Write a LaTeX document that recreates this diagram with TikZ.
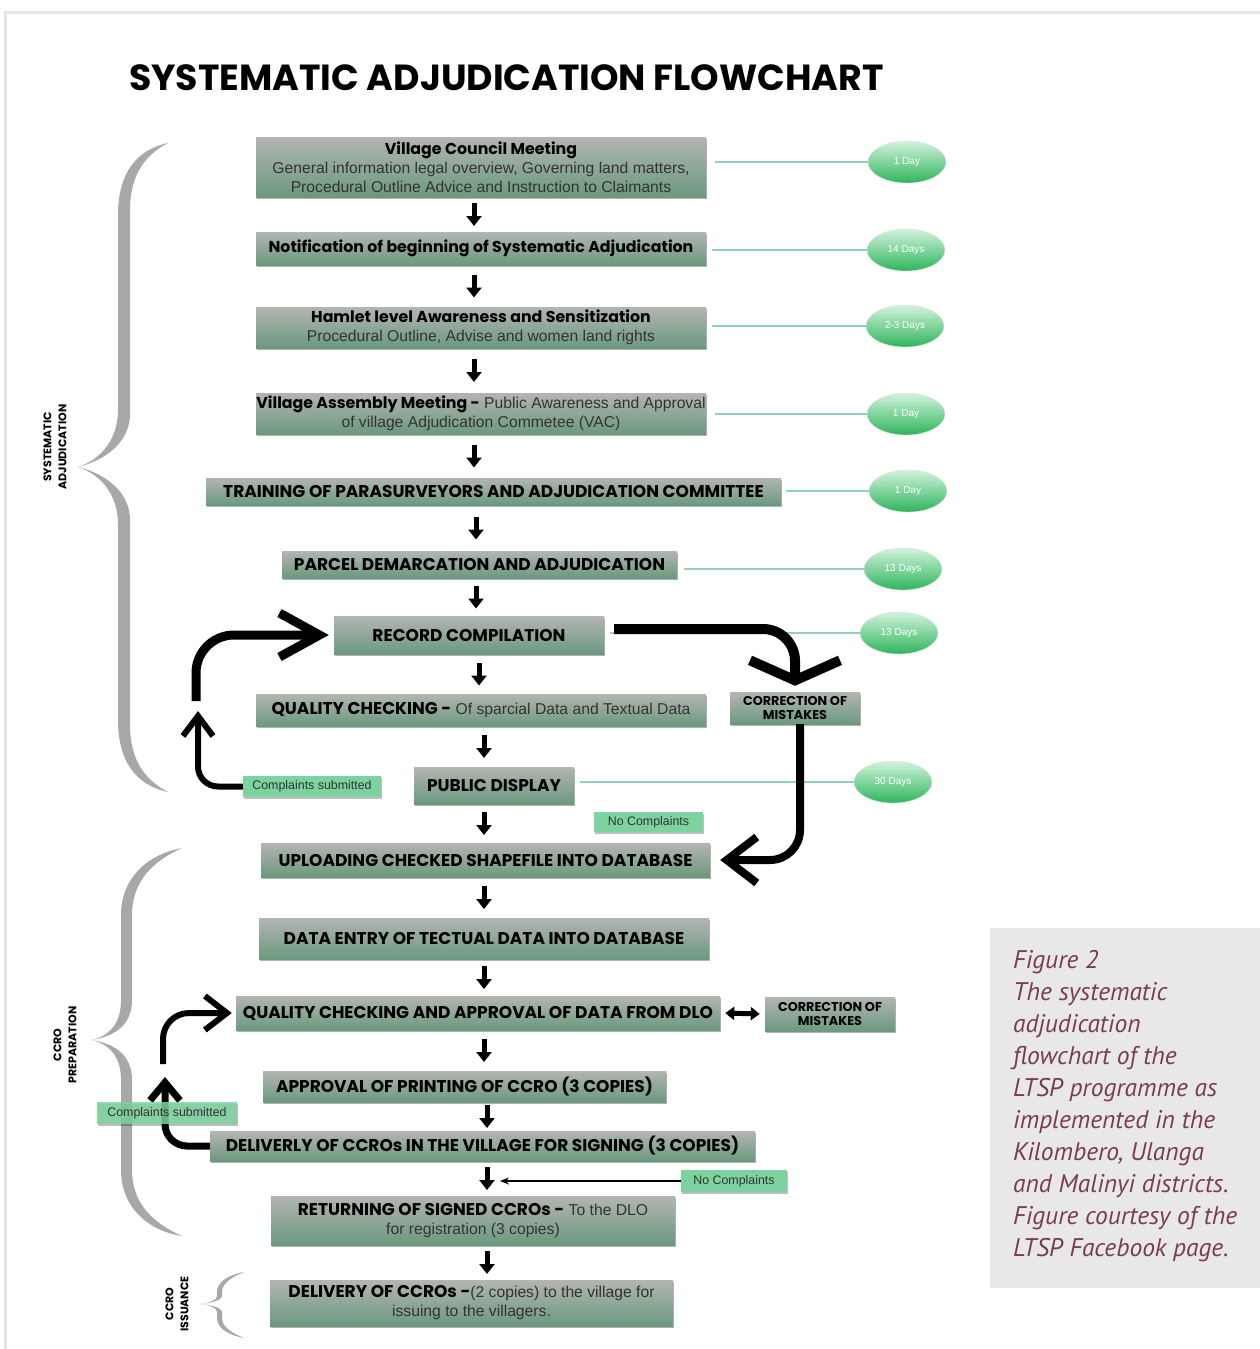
\documentclass[tikz,border=0pt]{standalone}
\usepackage{fontspec}
\setmainfont{Liberation Sans}
\newfontfamily\geo{Poppins}
\newfontfamily\capfont{PT Sans}
\usetikzlibrary{arrows.meta,shapes.geometric,shadows,calc}
\definecolor{boxtop}{HTML}{B3B5B1}
\definecolor{boxbot}{HTML}{6B997E}
\definecolor{mint}{HTML}{7DD3A0}
\definecolor{ovtop}{HTML}{D2F3DC}
\definecolor{ovbot}{HTML}{2EB55C}
\definecolor{tline}{HTML}{8FD3B0}
\definecolor{brc}{HTML}{A8A8A8}
\definecolor{capbg}{HTML}{E8E8E8}
\definecolor{capfg}{HTML}{7A3C50}
\definecolor{framec}{HTML}{E4E4E4}
\definecolor{bodytxt}{HTML}{333333}
\newcommand\headf{\geo\bfseries\fontsize{15.8}{19}\selectfont}
\newcommand\capsf{\geo\bfseries\fontsize{17}{19}\selectfont}
\newcommand\bodyf{\fontsize{15.7}{19}\selectfont}
\begin{document}
\begin{tikzpicture}[x=1pt,y=-1pt,
  gbox/.style={rectangle, top color=boxtop, bottom color=boxbot, inner sep=0pt, align=center,
    text=bodytxt, font=\bodyf,
    drop shadow={shadow xshift=1pt,shadow yshift=-2pt,opacity=0.3,fill=black}},
  capbox/.style={gbox, text=black, font=\capsf},
  corrbox/.style={gbox, text=black, font=\geo\bfseries\fontsize{12.8}{14}\selectfont},
  mintbox/.style={rectangle, fill=mint, inner sep=0pt, text=black!80, font=\fontsize{12.4}{13}\selectfont,
    drop shadow={shadow xshift=1pt,shadow yshift=-1.5pt,opacity=0.25,fill=black}},
  oval/.style={ellipse, minimum width=78, minimum height=42, inner sep=0pt, top color=ovtop,
    bottom color=ovbot, draw=black!12, text=white, font=\fontsize{10}{11}\selectfont},
  tl/.style={draw=tline, line width=2.3pt},
  dn/.style={line width=5pt, -{Triangle[length=10pt,width=15pt]}},
  vlab/.style={rotate=90, align=center, font=\geo\bfseries\fontsize{11}{15}\selectfont},
  brace/.style={fill=brc, draw=none}
]
\useasboundingbox (0,0) rectangle (1260,1349);
\fill[white] (0,0) rectangle (1260,1349);
\draw[framec, line width=3pt] (5,1349) -- (5,12) -- (1260,12);

% title
\node[font=\geo\bfseries\fontsize{36.3}{40}\selectfont, anchor=west, inner sep=0pt] (title) at (129,78) {SYSTEMATIC ADJUDICATION FLOWCHART};

% braces
\path[brace] (168,143) .. controls (135,150) and (118,175) .. (118,215) -- (118,410)
  .. controls (118,440) and (100,460) .. (78,467) .. controls (100,474) and (118,494) .. (118,524)
  -- (118,720) .. controls (118,760) and (135,785) .. (168,792)
  .. controls (145,780) and (130,760) .. (130,725) -- (130,520)
  .. controls (130,495) and (110,475) .. (78,467) .. controls (110,459) and (130,439) .. (130,414)
  -- (130,210) .. controls (130,175) and (145,155) .. (168,143) -- cycle;
\path[brace] (182,848) .. controls (145,855) and (121,880) .. (121,915) -- (121,1000)
  .. controls (121,1025) and (108,1036) .. (92,1040) .. controls (108,1044) and (121,1055) .. (121,1080)
  -- (121,1170) .. controls (121,1205) and (145,1230) .. (182,1236)
  .. controls (155,1224) and (132,1205) .. (132,1170) -- (132,1080)
  .. controls (132,1055) and (115,1044) .. (92,1040) .. controls (115,1036) and (132,1025) .. (132,1000)
  -- (132,915) .. controls (132,880) and (155,860) .. (182,848) -- cycle;
\path[brace] (244,1272) .. controls (228,1275) and (217,1282) .. (217,1292) -- (217,1296)
  .. controls (217,1300) and (210,1303) .. (200,1304) .. controls (210,1305) and (217,1308) .. (217,1312)
  -- (217,1318) .. controls (217,1328) and (228,1335) .. (244,1338)
  .. controls (232,1333) and (222,1327) .. (222,1318) -- (222,1312)
  .. controls (222,1308) and (212,1305) .. (200,1304) .. controls (212,1303) and (222,1300) .. (222,1296)
  -- (222,1292) .. controls (222,1283) and (232,1277) .. (244,1272) -- cycle;

\node[vlab] (lab1) at (55,447) {SYSTEMATIC\\ADJUDICATION};
\node[vlab] (lab2) at (65,1045) {CCRO\\PREPARATION};
\node[vlab] (lab3) at (177,1304) {CCRO\\ISSUANCE};

% main boxes
\node[gbox, minimum width=450, minimum height=60] (b1) at (481,167)
  {{\headf\color{black}Village Council Meeting}\\General information legal overview, Governing land matters,\\Procedural Outline Advice and Instruction to Claimants};
\node[gbox, minimum width=450, minimum height=33] (b2) at (481,248.5)
  {{\headf\color{black}Notification of beginning of Systematic Adjudication}};
\node[gbox, minimum width=450, minimum height=41] (b3) at (481,327.5)
  {{\headf\color{black}Hamlet level Awareness and Sensitization}\\Procedural Outline, Advise and women land rights};
\node[gbox, minimum width=450, minimum height=41] (b4) at (481,413.5)
  {{\headf\color{black}Village Assembly Meeting -} Public Awareness and Approval\\of village Adjudication Commetee (VAC)};
\node[capbox, minimum width=575, minimum height=27] (b5) at (493.5,491.5)
  {TRAINING OF PARASURVEYORS AND ADJUDICATION COMMITTEE};
\node[capbox, minimum width=395, minimum height=27] (b6) at (479.5,564.5)
  {PARCEL DEMARCATION AND ADJUDICATION};
\node[capbox, minimum width=270, minimum height=38] (b7) at (469,635)
  {RECORD COMPILATION};
\node[gbox, minimum width=450, minimum height=32] (b8) at (481,710)
  {{\capsf\color{black}QUALITY CHECKING -} Of sparcial Data and Textual Data};
\node[corrbox, minimum width=130, minimum height=32] (c1) at (795,708)
  {CORRECTION OF\\MISTAKES};
\node[capbox, minimum width=160, minimum height=37] (b11) at (494,785.5)
  {PUBLIC DISPLAY};
\node[capbox, minimum width=449, minimum height=34] (b13) at (485.5,860)
  {UPLOADING CHECKED SHAPEFILE INTO DATABASE};
\node[capbox, minimum width=450, minimum height=41] (b14) at (484,938.5)
  {DATA ENTRY OF TECTUAL DATA INTO DATABASE};
\node[capbox, minimum width=484, minimum height=34] (b15) at (478,1013)
  {QUALITY CHECKING AND APPROVAL OF DATA FROM DLO};
\node[corrbox, minimum width=130, minimum height=34] (c2) at (830,1014)
  {CORRECTION OF\\MISTAKES};
\node[capbox, minimum width=403, minimum height=31] (b17) at (464.5,1086.5)
  {APPROVAL OF PRINTING OF CCRO (3 COPIES)};
\node[capbox, minimum width=545, minimum height=30] (b19) at (482.5,1146)
  {DELIVERLY OF CCROs IN THE VILLAGE FOR SIGNING (3 COPIES)};
\node[gbox, minimum width=404, minimum height=49] (b21) at (473,1220.5)
  {{\capsf\color{black}RETURNING OF SIGNED CCROs -} To the DLO\\for registration (3 copies)};
\node[gbox, minimum width=403, minimum height=46] (b22) at (471.5,1303)
  {{\capsf\color{black}DELIVERY OF CCROs -}(2 copies) to the village for\\issuing to the villagers.};

% duration ovals and lines
\node[oval] (d1) at (907,162) {1 Day};
\node[oval] (d2) at (906,250) {14 Days};
\node[oval] (d3) at (905,326) {2-3 Days};
\node[oval] (d4) at (906,414) {1 Day};
\node[oval] (d5) at (908,491) {1 Day};
\node[oval] (d6) at (903,569) {13 Days};
\node[oval] (d7) at (899,633) {13 Days};
\node[oval] (d8) at (893,782) {30 Days};
\draw[tl] (b1.east |- d1.west) ++(9,0) -- (d1.west);
\draw[tl] (b2.east |- d2.west) ++(6,0) -- (d2.west);
\draw[tl] (b3.east |- d3.west) ++(6,0) -- (d3.west);
\draw[tl] (b4.east |- d4.west) ++(9,0) -- (d4.west);
\draw[tl] (b5.east |- d5.west) ++(5,0) -- (d5.west);
\draw[tl] (b6.east |- d6.west) ++(7,0) -- (d6.west);
\draw[tl] (b7.east |- d7.west) ++(6,0) -- (d7.west);
\draw[tl] (b11.east |- d8.west) ++(6,0) -- (d8.west);

% down arrows
\coordinate (colA) at (474,0);
\coordinate (colB) at (476,0);
\coordinate (colC) at (479,0);
\coordinate (colD) at (484,0);
\coordinate (colE) at (487,0);
\foreach \a/\b/\c in {b1/b2/colA, b2/b3/colA, b3/b4/colA, b4/b5/colA, b5/b6/colB, b6/b7/colB,
  b7/b8/colC, b8/b11/colD, b11/b13/colD, b13/b14/colD, b14/b15/colD, b15/b17/colD,
  b17/b19/colE, b19/b21/colE, b21/b22/colE}
  \draw[dn] ($(\a.south -| \c)!0.5!(\b.north -| \c)$) ++(0,-11.5) -- ++(0,23);

% complaint boxes
\node[mintbox, minimum width=138, minimum height=21] (cs1) at (312,786.5) {Complaints submitted};
\node[mintbox, minimum width=109, minimum height=20] (nc1) at (648.5,822) {No Complaints};
\node[mintbox, minimum width=106, minimum height=22] (nc2) at (734,1181) {No Complaints};

% loop arrows (upper)
\coordinate (upA) at (198,711);
\coordinate (stA) at (196,701);
\draw[line width=6pt, rounded corners=20pt, -{Straight Barb[length=20pt,width=30pt]}]
  (cs1.west) -| (upA);
\draw[line width=9pt, rounded corners=38pt, shorten >=5pt, -{Straight Barb[length=40pt,width=44pt]}]
  (stA) |- (b7.west);
\coordinate (stB) at (614,629);
\draw[line width=10pt, rounded corners=32pt, shorten >=6pt, -{Straight Barb[length=20pt,width=90pt]}]
  (stB) -| (c1.north);
\draw[line width=8pt, rounded corners=30pt, shorten >=10pt, -{Straight Barb[length=30pt,width=46pt]}]
  ([xshift=5pt]c1.south) |- (b13.east);

% loop arrows (lower)
\coordinate (upD) at (165,1077);
\coordinate (stE) at (163,1064);
\draw[line width=7pt, rounded corners=22pt, -{Straight Barb[length=18pt,width=30pt]}]
  (b19.west) -| (upD);
\draw[line width=6pt, rounded corners=26pt, shorten >=4pt, -{Straight Barb[length=22pt,width=34pt]}]
  (stE) |- (b15.west);
\node[mintbox, fill opacity=0.85, text opacity=1, minimum width=140, minimum height=22] (cs2) at (167,1113) {Complaints submitted};
\draw[line width=5pt, shorten <=5pt, shorten >=5pt, {Triangle[length=9pt,width=13pt]}-{Triangle[length=9pt,width=13pt]}]
  (b15.east) -- (c2.west);
\coordinate (nce) at (500,1181);
\draw[line width=1.5pt, -{Stealth[length=9pt,width=7pt]}] (nc2.west) -- (nce);

% caption
\fill[capbg] (990,928) rectangle (1260,1288);
\node[anchor=north west, inner sep=0pt, align=left, text=capfg,
  font=\capfont\itshape\fontsize{25.5}{32}\selectfont] (cap) at (1013,950)
  {Figure 2\\The systematic\\adjudication\\flowchart of the\\LTSP programme as\\implemented in the\\Kilombero, Ulanga\\and Malinyi districts.\\Figure courtesy of the\\LTSP Facebook page.};
\end{tikzpicture}
\end{document}
